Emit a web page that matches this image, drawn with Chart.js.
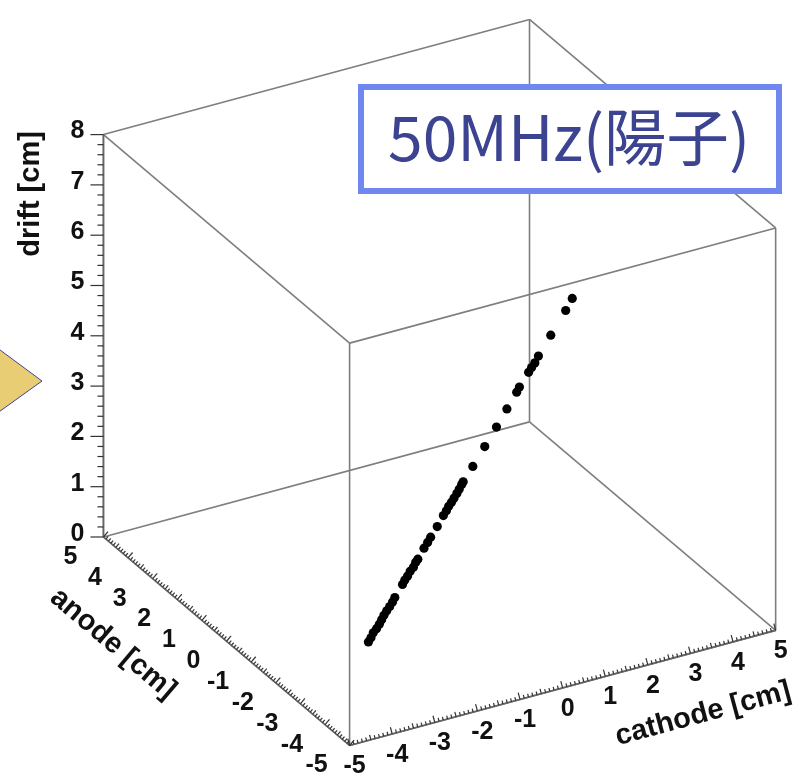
<!DOCTYPE html>
<html>
<head>
<meta charset="utf-8">
<script src="https://cdn.jsdelivr.net/npm/chart.js@4.4.1/dist/chart.umd.min.js"></script>
<style>
  html, body { margin: 0; padding: 0; background: #fff; }
  #wrap { width: 802px; height: 780px; position: relative; }
</style>
</head>
<body>
<div id="wrap"><canvas id="plot"></canvas></div>
<script>
// tick labels of the three axes
const anodeTicks = [5, 4, 3, 2, 1, 0, -1, -2, -3, -4, -5];
const cathodeTicks = [-5, -4, -3, -2, -1, 0, 1, 2, 3, 4, 5];
const driftTicks = [0, 1, 2, 3, 4, 5, 6, 7, 8];

// hits (cm)
const anodeCm = [-1.42, -1.42, -1.41, -1.42, -1.43, -1.42, -1.41, -1.42, -1.42, -1.43, -1.42,
                 -1.42, -1.41, -1.42, -1.42, -1.43, -1.42, -1.42,
                 -1.41, -1.42, -1.42, -1.43,
                 -1.42, -1.42, -1.41, -1.42, -1.42, -1.43, -1.42, -1.42, -1.41,
                 -1.42, -1.42, -1.43, -1.42, -1.42, -1.41, -1.42, -1.42, -1.43, -1.42, -1.42, -1.42, -1.41];
const cathodeCm = [-2.49, -2.43, -2.37, -2.30, -2.24, -2.18, -2.12, -2.06, -1.99, -1.93, -1.87,
                   -1.69, -1.63, -1.57, -1.51, -1.44, -1.38, -1.33,
                   -1.18, -1.10, -1.03, -0.88,
                   -0.73, -0.66, -0.60, -0.54, -0.48, -0.42, -0.36, -0.30, -0.26,
                   -0.04, 0.24, 0.51, 0.76, 0.99, 1.06, 1.27, 1.34, 1.41, 1.50, 1.79, 2.14, 2.30];
const driftCm = [0.00, 0.07, 0.15, 0.22, 0.30, 0.37, 0.44, 0.52, 0.59, 0.67, 0.74,
                 0.96, 1.03, 1.10, 1.18, 1.25, 1.33, 1.38,
                 1.56, 1.66, 1.75, 1.93,
                 2.11, 2.19, 2.26, 2.33, 2.40, 2.48, 2.55, 2.63, 2.67,
                 2.93, 3.26, 3.59, 3.89, 4.17, 4.25, 4.50, 4.58, 4.66, 4.77, 5.12, 5.53, 5.73];

const boxTitle = '50MHz(陽子)';

// oblique view of the box: origin and one step per cm along each axis
const view = { ox: 440, oy: 586, ax: -24.9, ay: -21.1, cx: 43.1, cy: -11.65, dy: -50.9 };
function proj(a, c, d) {
  return { x: view.ox + view.ax * a + view.cx * c,
           y: view.oy + view.ay * a + view.cy * c + view.dy * d };
}

const points = anodeCm.map((a, i) => proj(a, cathodeCm[i], driftCm[i]));

const labelFont = "bold 25px 'Liberation Sans', Arial, sans-serif";
const titleFont = "bold 29px 'Liberation Sans', Arial, sans-serif";

const boxPlugin = {
  id: 'box3d',
  beforeDatasetsDraw(chart) {
    const ctx = chart.ctx;
    const xs = chart.scales.x, ys = chart.scales.y;
    const P = (a, c, d) => {
      const p = proj(a, c, d);
      return { x: xs.getPixelForValue(p.x), y: ys.getPixelForValue(p.y) };
    };
    const line = (p, q) => { ctx.beginPath(); ctx.moveTo(p.x, p.y); ctx.lineTo(q.x, q.y); ctx.stroke(); };
    const aR = [-5, 5], cR = [-5, 5], dR = [0, 8];

    ctx.save();
    ctx.strokeStyle = '#7e7e7e';
    ctx.lineWidth = 1.6;
    // the 12 edges
    for (const c of cR) for (const d of dR) line(P(aR[0], c, d), P(aR[1], c, d));
    for (const a of aR) for (const d of dR) line(P(a, cR[0], d), P(a, cR[1], d));
    for (const a of aR) for (const c of cR) line(P(a, c, dR[0]), P(a, c, dR[1]));

    // axis lines
    ctx.strokeStyle = '#666';
    line(P(5, -5, 0), P(-5, -5, 0));
    line(P(-5, -5, 0), P(-5, 5, 0));
    line(P(5, -5, 0), P(5, -5, 8));

    ctx.strokeStyle = '#333';
    ctx.lineWidth = 1.2;
    // anode ticks
    let s = P(5, -5, 0), e = P(-5, -5, 0);
    let L = Math.hypot(e.x - s.x, e.y - s.y);
    let nx = (e.y - s.y) / L, ny = -(e.x - s.x) / L;
    if (ny > 0) { nx = -nx; ny = -ny; }
    for (let i = -50; i <= 50; i++) {
      const p = P(i / 10, -5, 0);
      const len = i % 10 === 0 ? 7 : (i % 5 === 0 ? 5 : 3.5);
      line(p, { x: p.x + nx * len, y: p.y + ny * len });
    }
    // cathode ticks
    s = P(-5, -5, 0); e = P(-5, 5, 0);
    L = Math.hypot(e.x - s.x, e.y - s.y);
    nx = (e.y - s.y) / L; ny = -(e.x - s.x) / L;
    if (ny > 0) { nx = -nx; ny = -ny; }
    for (let i = -50; i <= 50; i++) {
      const p = P(-5, i / 10, 0);
      const len = i % 10 === 0 ? 7 : (i % 5 === 0 ? 5 : 3.5);
      line(p, { x: p.x + nx * len, y: p.y + ny * len });
    }
    // drift ticks
    for (let i = 0; i <= 40; i++) {
      const p = P(5, -5, i / 5);
      const len = i % 5 === 0 ? 13 : 6;
      line(p, { x: p.x - len, y: p.y });
    }

    // tick labels
    ctx.fillStyle = '#111';
    ctx.font = labelFont;
    ctx.textAlign = 'center';
    ctx.textBaseline = 'middle';
    anodeTicks.forEach(v => {
      const p = P(v, -5, 0);
      ctx.fillText(String(v), p.x - 33, p.y + 20);
    });
    cathodeTicks.forEach(v => {
      const p = P(-5, v, 0);
      ctx.fillText(String(v), p.x + 5, p.y + 21);
    });
    ctx.textAlign = 'right';
    driftTicks.forEach(v => {
      const p = P(5, -5, v);
      ctx.fillText(String(v), p.x - 19, p.y - 3);
    });

    // axis titles
    ctx.font = titleFont;
    ctx.textAlign = 'center';
    const title = (txt, x, y, ang) => {
      ctx.save(); ctx.translate(x, y); ctx.rotate(ang); ctx.fillText(txt, 0, 0); ctx.restore();
    };
    let a0 = P(5, -5, 0), a1 = P(-5, -5, 0);
    title('anode [cm]', 113, 644, Math.atan2(a1.y - a0.y, a1.x - a0.x));
    a0 = P(-5, -5, 0); a1 = P(-5, 5, 0);
    title('cathode [cm]', 703, 714, Math.atan2(a1.y - a0.y, a1.x - a0.x));
    title('drift [cm]', 31, 194, -Math.PI / 2);
    ctx.restore();
  },
  afterDraw(chart) {
    const ctx = chart.ctx;
    ctx.save();
    // yellow pointer on the left edge
    ctx.beginPath();
    ctx.moveTo(-4, 347); ctx.lineTo(42, 381); ctx.lineTo(-4, 414); ctx.closePath();
    ctx.fillStyle = '#e9cd74';
    ctx.fill();
    ctx.strokeStyle = '#404590';
    ctx.lineWidth = 1;
    ctx.stroke();

    // title box
    ctx.fillStyle = '#fff';
    ctx.fillRect(361, 87, 418, 104);
    ctx.strokeStyle = '#6f87ee';
    ctx.lineWidth = 6;
    ctx.strokeRect(361, 87, 418, 104);
    let size = 62;
    ctx.font = `${size}px 'Noto Sans CJK JP', sans-serif`;
    const w = ctx.measureText(boxTitle).width;
    size = size * 362 / w;
    ctx.font = `${size}px 'Noto Sans CJK JP', sans-serif`;
    ctx.fillStyle = '#3c4391';
    ctx.textAlign = 'center';
    ctx.textBaseline = 'alphabetic';
    ctx.fillText(boxTitle, 569, 161);
    ctx.restore();
  }
};

new Chart(document.getElementById('plot'), {
  type: 'scatter',
  data: {
    datasets: [{
      data: points,
      pointRadius: 4.6,
      pointBackgroundColor: '#000',
      pointBorderWidth: 0
    }]
  },
  options: {
    responsive: true,
    maintainAspectRatio: false,
    animation: false,
    layout: { padding: 0 },
    plugins: { legend: { display: false }, tooltip: { enabled: false } },
    scales: {
      x: { type: 'linear', min: 0, max: 802, display: false },
      y: { type: 'linear', min: 0, max: 780, reverse: true, display: false }
    }
  },
  plugins: [boxPlugin]
});
</script>
</body>
</html>
